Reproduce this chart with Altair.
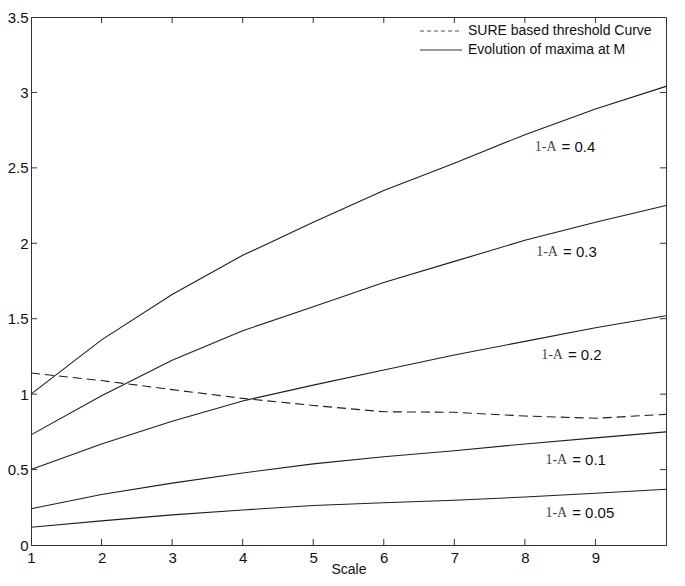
import altair as alt
import pandas as pd

# ---- data ----
scale_x = [1, 2, 3, 4, 5, 6, 7, 8, 9, 10]
curve_04 = [1.00, 1.36, 1.66, 1.92, 2.14, 2.35, 2.53, 2.72, 2.89, 3.04]
curve_03 = [0.73, 0.99, 1.225, 1.42, 1.58, 1.74, 1.88, 2.02, 2.14, 2.25]
curve_02 = [0.50, 0.67, 0.82, 0.955, 1.06, 1.16, 1.26, 1.35, 1.44, 1.52]
curve_01 = [0.24, 0.335, 0.41, 0.477, 0.538, 0.585, 0.625, 0.67, 0.71, 0.75]
curve_005 = [0.118, 0.16, 0.20, 0.232, 0.262, 0.28, 0.297, 0.318, 0.343, 0.37]
sure_curve = [1.14, 1.09, 1.03, 0.972, 0.925, 0.883, 0.88, 0.855, 0.84, 0.866]

series_names = ["0.4", "0.3", "0.2", "0.1", "0.05"]
series_values = [curve_04, curve_03, curve_02, curve_01, curve_005]

label_x = [8.52, 8.54, 8.61, 8.67, 8.67]
label_y = [2.64, 1.94, 1.26, 0.563, 0.214]

x_tick_labels = [1, 2, 3, 4, 5, 6, 7, 8, 9]
x_tick_marks = [2, 3, 4, 5, 6, 7, 8, 9]
y_tick_values = [0, 0.5, 1, 1.5, 2, 2.5, 3, 3.5]
y_tick_marks = [0.5, 1, 1.5, 2, 2.5, 3]

legend_items = ["SURE based threshold Curve", "Evolution of maxima at M"]

# ---- tables ----
rows = []
for name, vals in zip(series_names, series_values):
    for xv, yv in zip(scale_x, vals):
        rows.append({"x": xv, "y": yv, "series": name})
df_curves = pd.DataFrame(rows)
df_sure = pd.DataFrame({"x": scale_x, "y": sure_curve})
df_labels = pd.DataFrame({"x": label_x, "y": label_y,
                          "lhs": ["1-A"] * len(series_names),
                          "rhs": ["= " + s for s in series_names]})
df_xt = pd.DataFrame({"x": x_tick_marks})
df_yt = pd.DataFrame({"y": y_tick_marks})
one = pd.DataFrame({"k": [0]})

W, H = 635, 528
LINE = "#1e1e1e"

xs = alt.Scale(domain=[1, 10], nice=False, zero=False)
ys = alt.Scale(domain=[0, 3.5], nice=False)

x_axis = alt.Axis(values=x_tick_labels, tickSize=0, grid=False, labelFontSize=15,
                  labelPadding=5, labelFlush=False, labelOverlap=False,
                  labelExpr="'' + datum.value",
                  title="Scale", titleFontSize=14, titleFontWeight="normal",
                  titleY=28, titleBaseline="alphabetic")
y_axis = alt.Axis(values=y_tick_values, tickSize=0, grid=False, labelFontSize=15,
                  labelPadding=3, labelFlush=False, labelOverlap=False,
                  labelExpr="'' + datum.value", title=None)

curves = alt.Chart(df_curves).mark_line(color=LINE, strokeWidth=1.1).encode(
    x=alt.X("x:Q", scale=xs, axis=x_axis),
    y=alt.Y("y:Q", scale=ys, axis=y_axis),
    detail="series:N",
)

sure = alt.Chart(df_sure).mark_line(color=LINE, strokeWidth=1.1, strokeDash=[9, 5]).encode(
    x=alt.X("x:Q", scale=xs),
    y=alt.Y("y:Q", scale=ys),
)

lab_lhs = alt.Chart(df_labels).mark_text(
    font="Liberation Serif", fontSize=14, color="#444", align="right",
    baseline="middle", dx=-5).encode(
    x=alt.X("x:Q", scale=xs), y=alt.Y("y:Q", scale=ys), text="lhs:N")
lab_rhs = alt.Chart(df_labels).mark_text(
    font="Liberation Sans", fontSize=15, color="#111", align="left",
    baseline="middle").encode(
    x=alt.X("x:Q", scale=xs), y=alt.Y("y:Q", scale=ys), text="rhs:N")

TK = 6
tick_bottom = alt.Chart(df_xt).mark_rule(color="#333").encode(
    x=alt.X("x:Q", scale=xs), y=alt.value(H), y2=alt.value(H - TK))
tick_top = alt.Chart(df_xt).mark_rule(color="#333").encode(
    x=alt.X("x:Q", scale=xs), y=alt.value(0), y2=alt.value(TK))
tick_left = alt.Chart(df_yt).mark_rule(color="#333").encode(
    y=alt.Y("y:Q", scale=ys), x=alt.value(0), x2=alt.value(TK))
tick_right = alt.Chart(df_yt).mark_rule(color="#333").encode(
    y=alt.Y("y:Q", scale=ys), x=alt.value(W), x2=alt.value(W - TK))

leg_dash = alt.Chart(one).mark_rule(color="#555", strokeDash=[4, 3]).encode(
    x=alt.value(389), x2=alt.value(431), y=alt.value(14))
leg_solid = alt.Chart(one).mark_rule(color="#333").encode(
    x=alt.value(389), x2=alt.value(431), y=alt.value(33))
leg_t1 = alt.Chart(one).mark_text(font="Liberation Sans", fontSize=14, color="#111",
                                  align="left", baseline="middle").encode(
    x=alt.value(437), y=alt.value(14), text=alt.value(legend_items[0]))
leg_t2 = alt.Chart(one).mark_text(font="Liberation Sans", fontSize=14, color="#111",
                                  align="left", baseline="middle").encode(
    x=alt.value(437), y=alt.value(33), text=alt.value(legend_items[1]))

chart = alt.layer(
    curves, sure, lab_lhs, lab_rhs,
    tick_bottom, tick_top, tick_left, tick_right,
    leg_dash, leg_solid, leg_t1, leg_t2,
).properties(
    width=W, height=H,
    autosize=alt.AutoSizeParams(type="none"),
    padding={"left": 23, "top": 9, "right": 11, "bottom": 32},
).configure_view(
    stroke="#333", strokeWidth=1,
).configure_axis(
    domainColor="#333", labelColor="#111", titleColor="#111",
    labelFont="Liberation Sans", titleFont="Liberation Sans",
)

chart.save("out.html", embed_options={"renderer": "svg", "actions": False})
